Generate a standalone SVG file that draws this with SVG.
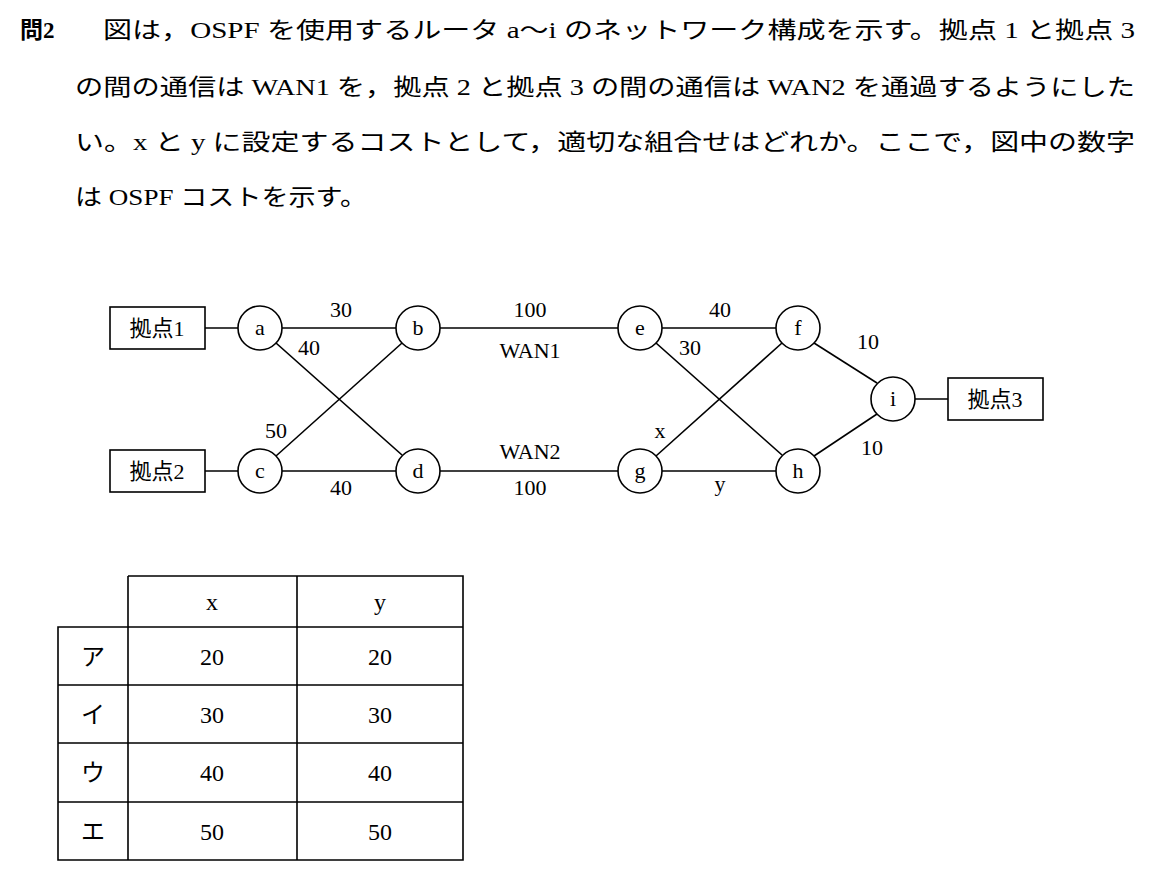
<svg xmlns="http://www.w3.org/2000/svg" width="1155" height="887" viewBox="0 0 1155 887">
<style>
text{font-family:"Liberation Serif","Noto Sans CJK JP",serif;font-size:22px;fill:#000}
.q{font-size:23px}
.t{font-size:24px}
.n{fill:#fff;stroke:#000;stroke-width:1.6}
.l{stroke:#000;stroke-width:1.6;fill:none}
.c{text-anchor:middle}
</style>
<rect width="1155" height="887" fill="#fff"/>
<g id="question">
<text class="q" x="20" y="38" font-weight="bold">問2</text>
<text class="q" x="103" y="38" textLength="1032" lengthAdjust="spacingAndGlyphs">図は，OSPF を使用するルータ a～i のネットワーク構成を示す。拠点 1 と拠点 3</text>
<text class="q" x="75" y="95" textLength="1060" lengthAdjust="spacingAndGlyphs">の間の通信は WAN1 を，拠点 2 と拠点 3 の間の通信は WAN2 を通過するようにした</text>
<text class="q" x="75" y="150" textLength="1060" lengthAdjust="spacingAndGlyphs">い。x と y に設定するコストとして，適切な組合せはどれか。ここで，図中の数字</text>
<text class="q" x="75" y="205" textLength="292" lengthAdjust="spacingAndGlyphs">は OSPF コストを示す。</text>
</g>
<g id="connectors" class="l">
<line x1="205" y1="328" x2="238" y2="328"/>
<line x1="205" y1="471" x2="238" y2="471"/>
<line x1="282" y1="328" x2="396" y2="328"/>
<line x1="282" y1="471" x2="396" y2="471"/>
<line x1="276" y1="343" x2="402" y2="455"/>
<line x1="276" y1="456" x2="402" y2="343"/>
<line x1="440" y1="328" x2="618" y2="328"/>
<line x1="440" y1="471" x2="618" y2="471"/>
<line x1="662" y1="328" x2="776" y2="328"/>
<line x1="662" y1="471" x2="776" y2="471"/>
<line x1="656" y1="343" x2="782" y2="455"/>
<line x1="656" y1="456" x2="782" y2="343"/>
<line x1="814" y1="343" x2="877" y2="383"/>
<line x1="814" y1="456" x2="877" y2="414"/>
<line x1="915" y1="399" x2="948" y2="399"/>
</g>
<g id="labels">
<text x="341" y="317" class="c">30</text>
<text x="309" y="355" class="c">40</text>
<text x="276" y="438" class="c">50</text>
<text x="341" y="495" class="c">40</text>
<text x="530" y="317" class="c">100</text>
<text x="530" y="358" class="c">WAN1</text>
<text x="530" y="459" class="c">WAN2</text>
<text x="530" y="495" class="c">100</text>
<text x="720" y="317" class="c">40</text>
<text x="690" y="355" class="c">30</text>
<text x="660" y="438" class="c">x</text>
<text x="720" y="491" class="c">y</text>
<text x="868" y="349" class="c">10</text>
<text x="872" y="455" class="c">10</text>
</g>
<g id="base1"><rect class="n" x="110" y="307" width="95" height="42"/><text x="157" y="336" class="c">拠点1</text></g>
<g id="base2"><rect class="n" x="110" y="450" width="95" height="42"/><text x="157" y="479" class="c">拠点2</text></g>
<g id="base3"><rect class="n" x="948" y="378" width="95" height="42"/><text x="995" y="407" class="c">拠点3</text></g>
<g id="a"><circle class="n" cx="260" cy="328" r="22"/><text x="260" y="335" class="c">a</text></g>
<g id="b"><circle class="n" cx="418" cy="328" r="22"/><text x="418" y="335" class="c">b</text></g>
<g id="c"><circle class="n" cx="260" cy="471" r="22"/><text x="260" y="478" class="c">c</text></g>
<g id="d"><circle class="n" cx="418" cy="471" r="22"/><text x="418" y="478" class="c">d</text></g>
<g id="e"><circle class="n" cx="640" cy="328" r="22"/><text x="640" y="335" class="c">e</text></g>
<g id="f"><circle class="n" cx="798" cy="328" r="22"/><text x="798" y="335" class="c">f</text></g>
<g id="g"><circle class="n" cx="640" cy="471" r="22"/><text x="640" y="478" class="c">g</text></g>
<g id="h"><circle class="n" cx="798" cy="471" r="22"/><text x="798" y="478" class="c">h</text></g>
<g id="i"><circle class="n" cx="893" cy="399" r="22"/><text x="893" y="406" class="c">i</text></g>
<g id="table" class="l">
<path d="M128 576H463V860H58V627H463M58 685H463M58 743H463M58 802H463M58 627V860M128 576V860M297 576V860"/>
</g>
<g id="tabletext" class="t">
<text x="212" y="610" class="c t">x</text><text x="380" y="610" class="c t">y</text>
<text x="93" y="665" class="c t">ア</text><text x="212" y="665" class="c t">20</text><text x="380" y="665" class="c t">20</text>
<text x="93" y="723" class="c t">イ</text><text x="212" y="723" class="c t">30</text><text x="380" y="723" class="c t">30</text>
<text x="93" y="781" class="c t">ウ</text><text x="212" y="781" class="c t">40</text><text x="380" y="781" class="c t">40</text>
<text x="93" y="840" class="c t">エ</text><text x="212" y="840" class="c t">50</text><text x="380" y="840" class="c t">50</text>
</g>
</svg>
